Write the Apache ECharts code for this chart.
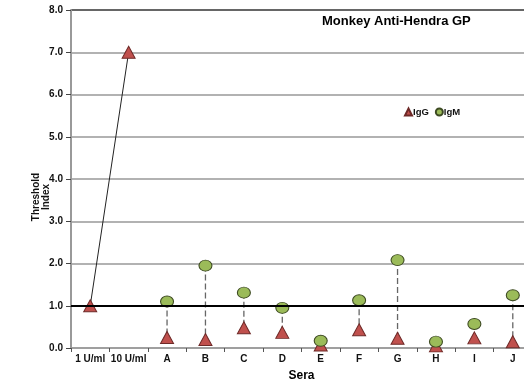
<!DOCTYPE html>
<html>
<head>
<meta charset="utf-8">
<script src="https://cdn.jsdelivr.net/npm/echarts@6/dist/echarts.min.js"></script>
<style>
html,body{margin:0;padding:0;background:#fff;}
#main{width:524px;height:383px;}
</style>
</head>
<body>
<div id="main"></div>
<script>
var sera = ['1 U/ml', '10 U/ml', 'A', 'B', 'C', 'D', 'E', 'F', 'G', 'H', 'I', 'J'];
// standards (only first two categories)
var iggStd = [1.0, 7.0, '-', '-', '-', '-', '-', '-', '-', '-', '-', '-'];
var igg = ['-', '-', 0.25, 0.20, 0.48, 0.37, 0.07, 0.43, 0.23, 0.05, 0.24, 0.15];
var igm = ['-', '-', 1.10, 1.95, 1.31, 0.95, 0.17, 1.13, 2.08, 0.15, 0.57, 1.25];
var yTicks = [0, 1, 2, 3, 4, 5, 6, 7, 8];
var threshold = 1.0;

var pairs = [];
for (var i = 0; i < sera.length; i++) {
    if (igm[i] !== '-') pairs.push([i, igm[i], igg[i]]);
}

var font = 'Liberation Sans, Arial, sans-serif';
var option = {
    animation: false,
    title: {
        text: 'Monkey Anti-Hendra GP',
        left: 317, top: 10,
        textStyle: {fontFamily: font, fontSize: 13, fontWeight: 'bold', color: '#000'}
    },
    legend: {
        left: 399, top: 102,
        itemWidth: 7, itemHeight: 7, itemGap: 6,
        data: [{name: 'IgG', icon: 'triangle'}, {name: 'IgM', icon: 'circle'}],
        textStyle: {fontFamily: font, fontSize: 9.5, fontWeight: 'bold', color: '#111', padding: [0, 0, 0, -4]}
    },
    grid: {left: 71, top: 10, width: 461, height: 338, containLabel: false, outerBoundsMode: 'none'},
    xAxis: {
        type: 'category',
        data: sera,
        name: 'Sera',
        nameLocation: 'middle',
        nameGap: 22,
        nameMoveOverlap: false,
        nameTextStyle: {fontFamily: font, fontSize: 12, fontWeight: 'bold', color: '#000'},
        axisLine: {lineStyle: {color: '#999', width: 1.5}},
        axisTick: {show: true, length: 4, lineStyle: {color: '#555'}},
        axisLabel: {interval: 0, margin: 6, fontFamily: font, fontSize: 10, fontWeight: 'bold', color: '#111'}
    },
    yAxis: {
        type: 'value',
        min: yTicks[0], max: yTicks[yTicks.length - 1], interval: 1,
        name: 'Threshold\nIndex',
        nameLocation: 'middle',
        nameGap: 20,
        nameMoveOverlap: false,
        nameTextStyle: {fontFamily: font, fontSize: 10, fontWeight: 'bold', color: '#111', lineHeight: 10, padding: [0, 36, 0, 0]},
        axisLine: {show: true, lineStyle: {color: '#999', width: 2}},
        axisTick: {show: true, length: 5, lineStyle: {color: '#444'}},
        axisLabel: {margin: 8, fontFamily: font, fontSize: 10, fontWeight: 'bold', color: '#111',
            formatter: function (v) { return v.toFixed(1); }},
        splitLine: {show: true, lineStyle: {color: ['#999', '#999', '#999', '#999', '#999', '#999', '#999', '#999', '#333'], width: 1.5}}
    },
    series: [
        {
            type: 'custom',
            z: 1,
            data: pairs,
            renderItem: function (params, api) {
                var a = api.coord([api.value(0), api.value(1)]);
                var b = api.coord([api.value(0), api.value(2)]);
                return {
                    type: 'line',
                    shape: {x1: a[0], y1: a[1], x2: b[0], y2: b[1]},
                    style: {stroke: '#666', lineWidth: 1.3, lineDash: [6, 3]}
                };
            },
            markLine: {
                silent: true, symbol: 'none', label: {show: false},
                lineStyle: {color: '#000', width: 2, type: 'solid'},
                data: [{yAxis: threshold}]
            }
        },
        {
            name: 'IgG',
            type: 'line',
            z: 3,
            data: iggStd,
            symbol: 'triangle',
            symbolSize: [13, 12],
            showAllSymbol: true,
            lineStyle: {color: '#222', width: 1},
            itemStyle: {color: '#c0504d', borderColor: '#6e2a28', borderWidth: 1}
        },
        {
            name: 'IgG',
            type: 'scatter',
            z: 3,
            data: igg,
            symbol: 'triangle',
            symbolSize: [13, 12],
            itemStyle: {color: '#c0504d', borderColor: '#6e2a28', borderWidth: 1, opacity: 1}
        },
        {
            name: 'IgM',
            type: 'scatter',
            z: 4,
            data: igm,
            symbol: 'circle',
            symbolSize: [13, 11],
            itemStyle: {color: '#9bbb59', borderColor: '#3d4a22', borderWidth: 1, opacity: 1}
        }
    ]
};
var myChart = echarts.init(document.getElementById('main'));
myChart.setOption(option);
</script>
</body>
</html>
